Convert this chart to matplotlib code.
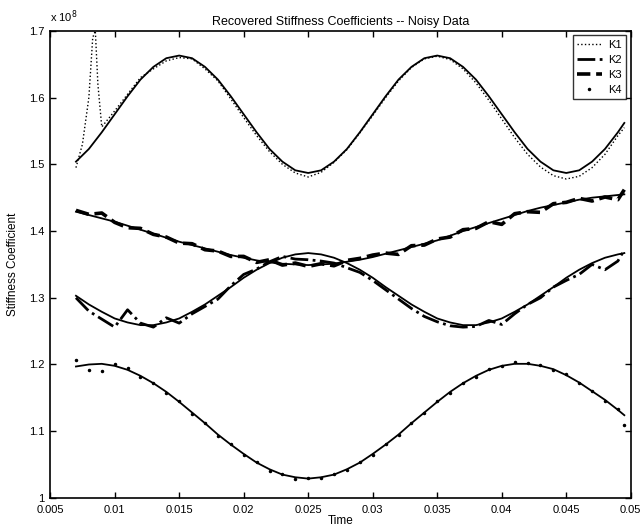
import matplotlib
matplotlib.use('Agg')
import matplotlib.pyplot as plt
from matplotlib.ticker import FuncFormatter

plt.rcParams['font.family'] = ['Liberation Sans', 'DejaVu Sans']

# time axis (s)
time = [0.007, 0.008, 0.009, 0.010, 0.011, 0.012, 0.013, 0.014, 0.015, 0.016,
        0.017, 0.018, 0.019, 0.020, 0.021, 0.022, 0.023, 0.024, 0.025, 0.026,
        0.027, 0.028, 0.029, 0.030, 0.031, 0.032, 0.033, 0.034, 0.035, 0.036,
        0.037, 0.038, 0.039, 0.040, 0.041, 0.042, 0.043, 0.044, 0.045, 0.046,
        0.047, 0.048, 0.049, 0.0495]

# true stiffness values (x 1e8)
k1_true = [1.504, 1.523, 1.548, 1.575, 1.602, 1.627, 1.646, 1.659, 1.663, 1.659,
           1.646, 1.627, 1.602, 1.575, 1.548, 1.523, 1.504, 1.491, 1.487, 1.491,
           1.504, 1.523, 1.548, 1.575, 1.602, 1.627, 1.646, 1.659, 1.663, 1.659,
           1.646, 1.627, 1.602, 1.575, 1.548, 1.523, 1.504, 1.491, 1.487, 1.491,
           1.504, 1.523, 1.548, 1.562]
k2_true = [1.303, 1.290, 1.279, 1.269, 1.263, 1.259, 1.259, 1.263, 1.269, 1.279,
           1.290, 1.303, 1.316, 1.330, 1.342, 1.352, 1.360, 1.365, 1.367, 1.365,
           1.360, 1.352, 1.342, 1.330, 1.316, 1.303, 1.290, 1.279, 1.269, 1.263,
           1.259, 1.259, 1.263, 1.269, 1.279, 1.290, 1.303, 1.316, 1.330, 1.342,
           1.352, 1.360, 1.365, 1.367]
k3_true = [1.429, 1.424, 1.419, 1.414, 1.408, 1.402, 1.396, 1.390, 1.384, 1.379,
           1.374, 1.369, 1.364, 1.360, 1.356, 1.353, 1.351, 1.350, 1.349, 1.350,
           1.351, 1.354, 1.357, 1.361, 1.366, 1.371, 1.376, 1.381, 1.386, 1.393,
           1.400, 1.406, 1.412, 1.418, 1.424, 1.430, 1.435, 1.439, 1.443, 1.447,
           1.450, 1.452, 1.454, 1.455]
k4_true = [1.197, 1.200, 1.201, 1.198, 1.192, 1.183, 1.172, 1.159, 1.144, 1.128,
           1.112, 1.095, 1.080, 1.066, 1.053, 1.043, 1.035, 1.031, 1.029, 1.031,
           1.035, 1.043, 1.053, 1.066, 1.080, 1.095, 1.112, 1.128, 1.144, 1.159,
           1.172, 1.183, 1.192, 1.198, 1.201, 1.201, 1.198, 1.193, 1.184, 1.173,
           1.160, 1.147, 1.132, 1.124]

# recovered (noisy) values
time_k1 = [0.007, 0.0075, 0.008, 0.0083, 0.0085, 0.0087, 0.009, 0.010, 0.011,
           0.012, 0.013, 0.014, 0.015, 0.016, 0.017, 0.018, 0.019, 0.020, 0.021,
           0.022, 0.023, 0.024, 0.025, 0.026, 0.027, 0.028, 0.029, 0.030, 0.031,
           0.032, 0.033, 0.034, 0.035, 0.036, 0.037, 0.038, 0.039, 0.040, 0.041,
           0.042, 0.043, 0.044, 0.045, 0.046, 0.047, 0.048, 0.049, 0.0495]
k1_noisy = [1.495, 1.530, 1.600, 1.690, 1.700, 1.620, 1.556, 1.580, 1.605,
            1.630, 1.643, 1.655, 1.660, 1.658, 1.643, 1.625, 1.598, 1.570, 1.543,
            1.519, 1.500, 1.487, 1.481, 1.488, 1.503, 1.522, 1.547, 1.573, 1.600,
            1.625, 1.645, 1.658, 1.662, 1.657, 1.643, 1.622, 1.596, 1.568, 1.540,
            1.515, 1.496, 1.483, 1.478, 1.482, 1.495, 1.515, 1.543, 1.555]
k2_noisy = [1.300, 1.280, 1.268, 1.256, 1.282, 1.262, 1.256, 1.270, 1.262, 1.276,
            1.287, 1.298, 1.318, 1.335, 1.343, 1.354, 1.362, 1.358, 1.357, 1.355,
            1.352, 1.345, 1.338, 1.326, 1.312, 1.298, 1.284, 1.272, 1.264, 1.258,
            1.256, 1.257, 1.266, 1.260, 1.276, 1.290, 1.300, 1.316, 1.326, 1.335,
            1.350, 1.342, 1.355, 1.372]
k3_noisy = [1.431, 1.425, 1.427, 1.413, 1.405, 1.404, 1.395, 1.391, 1.382, 1.381,
            1.372, 1.370, 1.362, 1.362, 1.353, 1.357, 1.349, 1.352, 1.347, 1.351,
            1.348, 1.356, 1.359, 1.364, 1.367, 1.365, 1.378, 1.379, 1.388, 1.391,
            1.402, 1.404, 1.414, 1.410, 1.426, 1.429, 1.428, 1.441, 1.443, 1.449,
            1.445, 1.451, 1.447, 1.462]
k4_noisy = [1.206, 1.192, 1.190, 1.200, 1.194, 1.181, 1.173, 1.157, 1.145, 1.126,
            1.113, 1.093, 1.081, 1.064, 1.054, 1.041, 1.036, 1.029, 1.030, 1.030,
            1.036, 1.042, 1.054, 1.065, 1.081, 1.094, 1.113, 1.127, 1.145, 1.158,
            1.173, 1.182, 1.193, 1.197, 1.203, 1.202, 1.199, 1.192, 1.186, 1.172,
            1.161, 1.145, 1.134, 1.110]

fig = plt.figure(figsize=(6.43, 5.32), dpi=100)
ax = fig.add_axes([0.078, 0.064, 0.903, 0.878])

for yt in (k1_true, k2_true, k3_true, k4_true):
    ax.plot(time, yt, color='black', lw=1.3, zorder=3)

ax.plot(time_k1, k1_noisy, color='black', ls=':', lw=1.0, label='K1')
ax.plot(time, k2_noisy, color='black', ls='-.', lw=2.0, label='K2')
ax.plot(time, k3_noisy, color='black', ls='--', lw=2.6, label='K3')
ax.plot(time, k4_noisy, color='black', ls='none', marker='.', ms=3, label='K4')

ax.set_xlim(0.005, 0.05)
ax.set_ylim(1.0, 1.7)
ax.set_xticks([0.005, 0.01, 0.015, 0.02, 0.025, 0.03, 0.035, 0.04, 0.045, 0.05])
ax.set_yticks([1.0, 1.1, 1.2, 1.3, 1.4, 1.5, 1.6, 1.7])
ax.xaxis.set_major_formatter(FuncFormatter(lambda v, p: '%g' % round(v, 4)))
ax.yaxis.set_major_formatter(FuncFormatter(lambda v, p: '%g' % round(v, 2)))
ax.tick_params(direction='in', top=True, right=True, length=4, width=1,
               labelsize=8)
ax.tick_params(axis='x', pad=5)
ax.tick_params(axis='y', pad=4)
for s in ax.spines.values():
    s.set_linewidth(1.2)

ax.set_title('Recovered Stiffness Coefficients -- Noisy Data', fontsize=9, pad=4)
ax.set_xlabel('Time', fontsize=8.5, labelpad=0)
ax.set_ylabel('Stiffness Coefficient', fontsize=8.5, labelpad=7)
ax.text(0.0, 1.012, 'x 10$^{8}$', transform=ax.transAxes, fontsize=8,
        ha='left', va='bottom')

leg = ax.legend(loc='upper right', fontsize=8, frameon=True, fancybox=False,
                edgecolor='black', handlelength=2.2, handletextpad=0.6,
                labelspacing=0.45, borderpad=0.4, borderaxespad=0.4)
leg.get_frame().set_linewidth(1.0)

fig.savefig('out.png', dpi=100)
